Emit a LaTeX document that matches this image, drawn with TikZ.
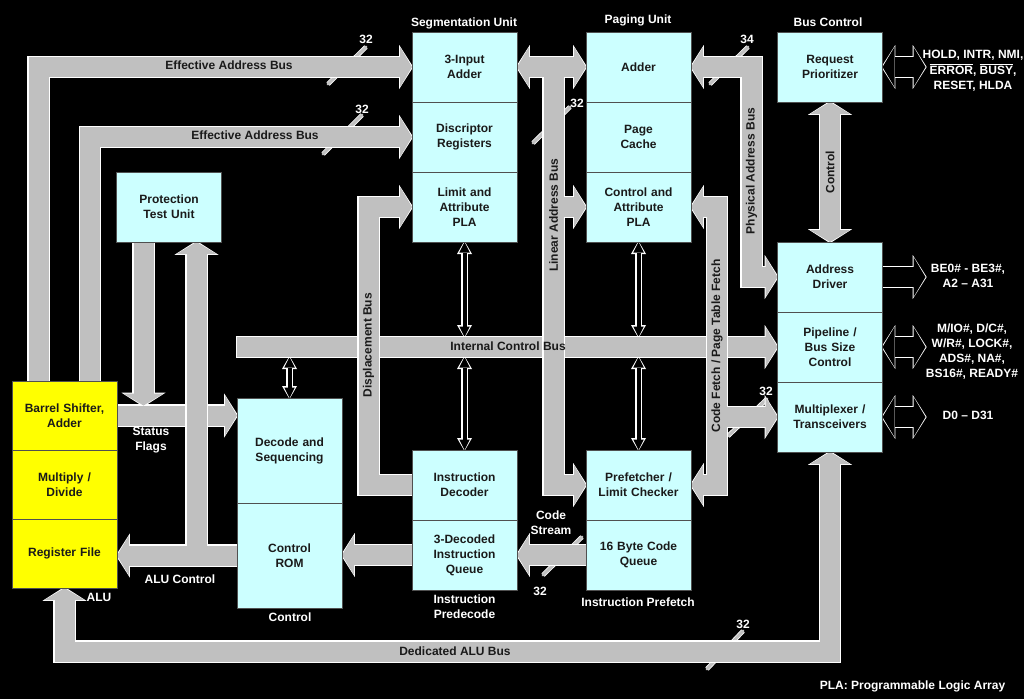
\documentclass[tikz,border=0pt]{standalone}
\usepackage{fontspec}
\setmainfont{Liberation Sans}
\usetikzlibrary{positioning}
\usetikzlibrary{arrows.meta}
\usetikzlibrary{calc}

\definecolor{unitcyan}{HTML}{CCFFFF}
\definecolor{aluyellow}{HTML}{FFFF00}
\definecolor{busgray}{HTML}{C0C0C0}
\definecolor{boxline}{HTML}{505050}
\definecolor{inktext}{HTML}{1A1A1A}

\pgfdeclarelayer{background}
\pgfsetlayers{background,main}

\tikzset{
  unit/.style={draw=boxline, fill=unitcyan, line width=0.8pt, minimum width=105pt,
    minimum height=70pt, text width=100pt, align=center, inner sep=0pt, outer sep=0pt,
    text=inktext, font=\fontsize{12}{15}\selectfont\bfseries},
  alu/.style={unit, fill=aluyellow, minimum height=69pt},
  buslabel/.style={text=inktext, inner sep=0pt, font=\fontsize{12}{15}\selectfont\bfseries},
  tag/.style={text=white, inner sep=0pt, align=center, font=\fontsize{12}{15}\selectfont\bfseries},
  busout/.style={draw=white, line width=22.4pt, shorten >=-1.2pt, shorten <=-1.2pt,
    >={Triangle[width=44pt,length=14pt,line width=0pt]}},
  busin/.style={draw=busgray, line width=20pt,
    >={Triangle[width=40pt,length=12pt,line width=0pt]}},
  extin/.style={busin, draw=black},
  thinout/.style={draw=white, line width=7pt, shorten >=-1pt, shorten <=-1pt,
    >={Triangle[width=15pt,length=13pt,line width=0pt]}},
  thinin/.style={draw=black, line width=4pt,
    >={Triangle[width=10.5pt,length=10.5pt,line width=0pt]}},
  slash/.style={draw=busgray, line width=3pt, line cap=round,
    preaction={draw=white, line width=4.6pt}}
}

% outline pass first, then the body, so joins stay seamless
\newcommand{\busgroup}[2][busin]{\foreach \lyr in {busout,#1}{#2}}

\begin{document}
\begin{tikzpicture}[x=1pt, y=-1pt]
	\useasboundingbox (0,0) rectangle (1024,699);

	% Segmentation and paging units
	\node[unit] (seg1) at (464.5,67) {3-Input\\Adder};
	\node[unit, below=0pt of seg1] (seg2) {Discriptor\\Registers};
	\node[unit, below=0pt of seg2] (seg3) {Limit and\\Attribute\\PLA};
	\node[unit] (pg1) at (638.5,67) {Adder};
	\node[unit, below=0pt of pg1] (pg2) {Page\\Cache};
	\node[unit, below=0pt of pg2] (pg3) {Control and\\Attribute\\PLA};

	% Bus control
	\node[unit] (req) at (830,67) {Request\\Prioritizer};
	\node[unit] (drv1) at (830,277) {Address\\Driver};
	\node[unit, below=0pt of drv1] (drv2) {Pipeline /\\Bus Size\\Control};
	\node[unit, below=0pt of drv2] (drv3) {Multiplexer /\\Transceivers};

	% Execution unit
	\node[unit] (ptu) at (169,207) {Protection\\Test Unit};
	\node[alu] (alu1) at (64.5,415.5) {Barrel Shifter,\\Adder};
	\node[alu, below=0pt of alu1] (alu2) {Multiply /\\Divide};
	\node[alu, below=0pt of alu2] (alu3) {Register File};

	% Control, predecode and prefetch
	\node[unit, minimum height=105pt] (dec) at (289.5,450.5) {Decode and\\Sequencing};
	\node[unit, minimum height=105pt, below=0pt of dec] (rom) {Control\\ROM};
	\node[unit] (idec) at (464.5,485) {Instruction\\Decoder};
	\node[unit, below=0pt of idec] (iq) {3-Decoded\\Instruction\\Queue};
	\node[unit] (pf) at (638.5,485) {Prefetcher /\\Limit Checker};
	\node[unit, below=0pt of pf] (cq) {16 Byte Code\\Queue};

	% bus corners and free ends
	\coordinate (icb) at (dec.west |- drv2.west);
	\coordinate (icbtop) at ($(icb)+(0,-10)$);
	\coordinate (icbbot) at ($(icb)+(0,10)$);
	\coordinate (flagx) at ($(ptu.south west)+(27,0)$);
	\coordinate (aluctlx) at ($(ptu.south east)+(-25,0)$);
	\coordinate (eab1x) at ($(alu1.north west)+(26.5,0)$);
	\coordinate (eab2x) at ($(alu1.north west)+(78,0)$);
	\coordinate (dispx) at ($(seg3.west)+(-43.5,0)$);
	\coordinate (linx) at ($(seg1.east)+(36.5,0)$);
	\coordinate (fetchx) at ($(pg3.east)+(26,0)$);
	\coordinate (physx) at ($(pg1.east)+(60.5,0)$);
	\coordinate (alubus) at ($(alu3.south)+(0,63.5)$);
	\coordinate (sigreq) at ($(req.east)+(43,0)$);
	\coordinate (sigaddr) at ($(drv1.east)+(43,0)$);
	\coordinate (sigpipe) at ($(drv2.east)+(43,0)$);
	\coordinate (sigdata) at ($(drv3.east)+(43,0)$);

	\begin{pgfonlayer}{background}
		\fill[black] (0,0) rectangle (1024,699);

		% bus width marks
		\foreach \xa/\ya/\xb/\yb in {328/84/366/47, 323/154/362/115, 533/143/570/107,
				710/84/748/47, 728/436/767/399, 543/575/582/537, 707/669/743/631}
			\draw[slash] (\xa,\ya) -- (\xb,\yb);

		% control links to the internal control bus
		\foreach \lyr in {thinout,thinin} {
				\draw[\lyr,<->] (seg3.south) -- (seg3.south |- icbtop);
				\draw[\lyr,<->] (idec.north) -- (idec.north |- icbbot);
				\draw[\lyr,<->] (pg3.south) -- (pg3.south |- icbtop);
				\draw[\lyr,<->] (pf.north) -- (pf.north |- icbbot);
				\draw[\lyr,<->] (dec.north) -- (dec.north |- icbbot);
			}

		% Internal control bus
		\busgroup{\draw[\lyr,->] (icb) -- (drv2.west);}

		% Status flags
		\busgroup{
			\draw[\lyr,->] (alu1.east) -- (alu1.east -| dec.west);
			\draw[\lyr,->] (flagx) -- ($(flagx |- alu1.east)+(0,-10)$);
		}

		% ALU control
		\busgroup{
			\draw[\lyr,->] (rom.west) -- (rom.west -| alu3.east);
			\draw[\lyr,->] (aluctlx |- rom.west) -- (aluctlx);
		}

		% Displacement bus
		\busgroup{\draw[\lyr,->] (idec.west) -| (dispx) -- (seg3.west);}

		% Linear address bus
		\busgroup{
			\draw[\lyr,<->] (seg1.east) -- (pg1.west);
			\draw[\lyr,->] (linx) |- (pf.west);
			\draw[\lyr,->] (linx |- pg3.west) -- (pg3.west);
		}

		% Code fetch / page table fetch
		\busgroup{
			\draw[\lyr,<->] (pg3.east) -- (fetchx) |- (pf.east);
			\draw[\lyr,->] (fetchx |- drv3.west) -- (drv3.west);
		}

		% Physical address bus
		\busgroup{\draw[\lyr,<->] (pg1.east) -- (physx) |- (drv1.west);}

		% Effective address buses
		\busgroup{
			\draw[\lyr,->] (eab1x) |- (seg1.west);
			\draw[\lyr,->] (eab2x) |- (seg2.west);
		}

		% Control, code stream, queue and ALU bus
		\busgroup{\draw[\lyr,<->] (req.south) -- (drv1.north);}
		\busgroup{\draw[\lyr,->] (cq.west) -- (iq.east);}
		\busgroup{\draw[\lyr,->] (iq.west) -- (iq.west -| rom.east);}
		\busgroup{\draw[\lyr,<->] (alu3.south) -- (alubus) -| (drv3.south);}

		% External pins
		\busgroup[extin]{
			\draw[\lyr,<->] (req.east) -- (sigreq);
			\draw[\lyr,->] (drv1.east) -- (sigaddr);
			\draw[\lyr,<->] (drv2.east) -- (sigpipe);
			\draw[\lyr,<->] (drv3.east) -- (sigdata);
		}
	\end{pgfonlayer}

	% bus names
	\node[buslabel] (lbleab1) at (229,65.5) {Effective Address Bus};
	\node[buslabel] (lbleab2) at (255,135.5) {Effective Address Bus};
	\node[buslabel] (lblicb) at (508,346.5) {Internal Control Bus};
	\node[buslabel, rotate=90] (lbldisp) at (368.5,345) {Displacement Bus};
	\node[buslabel, rotate=90] (lbllin) at (553.5,215) {Linear Address Bus};
	\node[buslabel, rotate=90] (lblphys) at (751.5,171) {Physical Address Bus};
	\node[buslabel, rotate=90] (lblfetch) at (717,346) {Code Fetch / Page Table Fetch};
	\node[buslabel, rotate=90] (lblctl) at (830,172) {Control};
	\node[buslabel] (lblalubus) at (455,651.5) {Dedicated ALU Bus};

	% unit titles and tags
	\node[tag] (ttlseg) at (464,23) {Segmentation Unit};
	\node[tag] (ttlpg) at (638,20) {Paging Unit};
	\node[tag] (ttlbus) at (828,22.5) {Bus Control};
	\node[tag] (tagflags) at (151,440) {Status\\Flags};
	\node[tag] (tagaluctl) at (180,579) {ALU Control};
	\node[tag] (tagalu) at (99,597) {ALU};
	\node[tag] (tagctl) at (290,617) {Control};
	\node[tag] (tagpre) at (464.5,606.5) {Instruction\\Predecode};
	\node[tag] (tagpf) at (638,602.5) {Instruction Prefetch};
	\node[tag] (tagstream) at (551,523) {Code\\Stream};
	\node[tag] (tagpla) at (912.5,686) {PLA: Programmable Logic Array};

	% bus widths
	\node[tag] (w1) at (366,39) {32};
	\node[tag] (w2) at (362,109) {32};
	\node[tag] (w3) at (577,103) {32};
	\node[tag] (w4) at (747,39) {34};
	\node[tag] (w5) at (766,391) {32};
	\node[tag] (w6) at (540,591) {32};
	\node[tag] (w7) at (743,624) {32};

	% pin names
	\node[tag] (pinreq) at (973,70.5) {HOLD, INTR, NMI,\\[1pt]$\overline{\mbox{ERROR}}$, $\overline{\mbox{BUSY}}$,\\RESET, HLDA};
	\node[tag] (pinaddr) at (968,276) {BE0\# - BE3\#,\\A2 -- A31};
	\node[tag] (pinpipe) at (972,352) {M/IO\#, D/C\#,\\W/R\#, LOCK\#,\\ADS\#, NA\#,\\BS16\#, READY\#};
	\node[tag] (pindata) at (968,415) {D0 -- D31};
\end{tikzpicture}
\end{document}
